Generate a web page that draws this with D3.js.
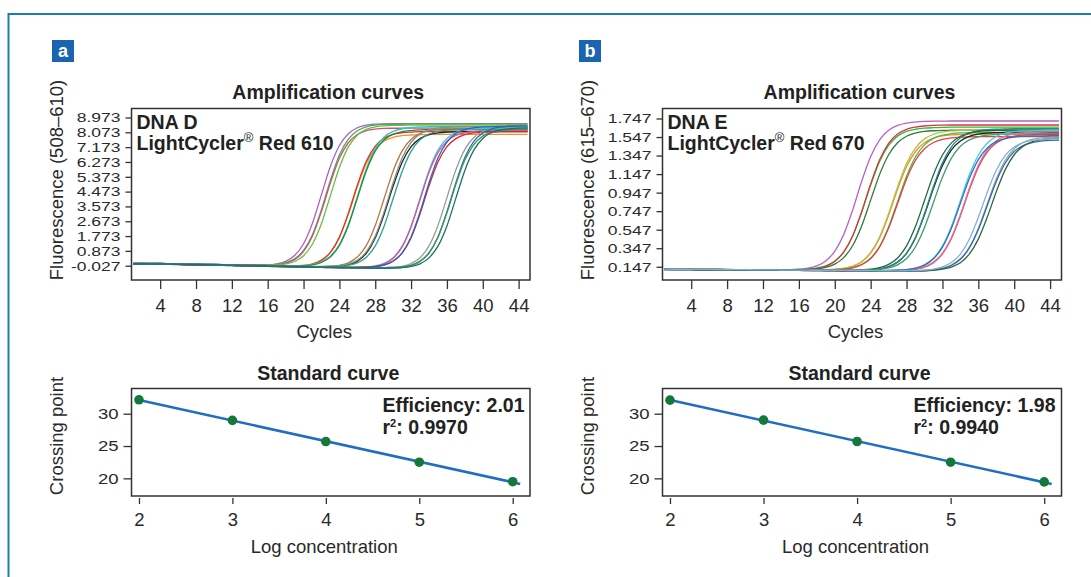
<!doctype html>
<html>
<head>
<meta charset="utf-8">
<title>Amplification curves and standard curves</title>
<script src="https://d3js.org/d3.v7.min.js"></script>
<style>
  body { margin: 0; background: #fff; }
  svg { display: block; font-family: "Liberation Sans", Arial, Helvetica, sans-serif; }
  .box { fill: none; stroke: #333; stroke-width: 1.5; }
  .axis path.domain { display: none; }
  .axis line { stroke: #333; stroke-width: 1.3; }
  .axis text { fill: #2a2a2a; font-size: 18.5px; font-family: "Liberation Sans", Arial, Helvetica, sans-serif; }
  .yamp text { font-size: 17.5px; }
  .bold { font-weight: bold; font-size: 19.5px; fill: #222; }
  .label { font-size: 18.5px; fill: #2a2a2a; }
  .amp { fill: none; stroke-width: 1.3; }
</style>
</head>
<body>
<script>
// ---- data ----
var cycles = [1,2,3,4,5,6,7,8,9,10,11,12,13,14,15,16,17,18,19,20,21,22,23,24,25,26,27,28,29,30,31,32,33,34,35,36,37,38,39,40,41,42,43,44,45];
var cycleTicks = [4, 8, 12, 16, 20, 24, 28, 32, 36, 40, 44];
var ampTicksD = [-0.027, 0.873, 1.773, 2.673, 3.573, 4.473, 5.373, 6.273, 7.173, 8.073, 8.973];
var ampTicksE = [0.147, 0.347, 0.547, 0.747, 0.947, 1.147, 1.347, 1.547, 1.747];
var logTicks = [2, 3, 4, 5, 6];
var cpTicks = [20, 25, 30];

// DNA D, LightCycler Red 610 : fluorescence per cycle, five dilutions
var dnaDGroup1 = [
  [0.10,0.10,0.09,0.09,0.08,0.07,0.06,0.05,0.04,0.03,0.02,0.01,0.00,0.00,0.01,0.02,0.09,0.24,0.59,1.31,2.57,4.29,6.01,7.27,7.99,8.35,8.51,8.57,8.59,8.60,8.60,8.60,8.60,8.60,8.60,8.60,8.60,8.60,8.60,8.60,8.60,8.60,8.60,8.60,8.60],
  [0.12,0.12,0.11,0.11,0.10,0.09,0.08,0.07,0.06,0.05,0.04,0.03,0.02,0.02,0.02,0.02,0.06,0.16,0.39,0.90,1.87,3.39,5.17,6.69,7.66,8.17,8.41,8.51,8.55,8.56,8.56,8.57,8.57,8.57,8.57,8.57,8.57,8.57,8.57,8.57,8.57,8.57,8.57,8.57,8.57],
  [0.08,0.08,0.07,0.07,0.06,0.05,0.04,0.03,0.02,0.01,0.00,-0.01,-0.02,-0.02,-0.02,-0.02,0.02,0.12,0.34,0.84,1.78,3.27,5.01,6.50,7.44,7.94,8.17,8.27,8.31,8.32,8.32,8.33,8.33,8.33,8.33,8.33,8.33,8.33,8.33,8.33,8.33,8.33,8.33,8.33,8.33],
  [0.11,0.11,0.10,0.10,0.09,0.08,0.07,0.06,0.05,0.04,0.03,0.02,0.01,0.00,0.00,-0.01,0.02,0.08,0.23,0.58,1.29,2.54,4.24,5.94,7.19,7.90,8.25,8.41,8.47,8.50,8.50,8.51,8.51,8.51,8.51,8.51,8.51,8.51,8.51,8.51,8.51,8.51,8.51,8.51,8.51]
];
var dnaDGroup2 = [
  [0.10,0.10,0.09,0.09,0.08,0.07,0.06,0.05,0.04,0.03,0.02,0.01,0.00,-0.01,-0.02,-0.04,-0.04,-0.04,-0.04,-0.01,0.09,0.31,0.78,1.69,3.10,4.76,6.18,7.08,7.55,7.77,7.87,7.91,7.93,7.94,7.95,7.95,7.95,7.95,7.95,7.95,7.95,7.95,7.95,7.95,7.95],
  [0.08,0.08,0.07,0.07,0.06,0.05,0.04,0.03,0.02,0.01,0.00,-0.01,-0.02,-0.03,-0.04,-0.06,-0.06,-0.06,-0.06,-0.03,0.07,0.30,0.78,1.71,3.16,4.86,6.31,7.24,7.72,7.95,8.05,8.09,8.11,8.12,8.13,8.13,8.13,8.13,8.13,8.13,8.13,8.13,8.13,8.13,8.13],
  [0.12,0.12,0.11,0.11,0.10,0.09,0.08,0.07,0.06,0.05,0.04,0.03,0.02,0.01,0.00,-0.02,-0.02,-0.03,-0.04,-0.01,0.05,0.21,0.55,1.26,2.49,4.17,5.85,7.08,7.79,8.13,8.29,8.36,8.40,8.41,8.42,8.42,8.42,8.42,8.42,8.42,8.42,8.42,8.42,8.42,8.42],
  [0.09,0.09,0.08,0.08,0.07,0.06,0.05,0.04,0.03,0.02,0.01,0.00,-0.01,-0.02,-0.03,-0.05,-0.05,-0.06,-0.07,-0.04,0.02,0.17,0.51,1.20,2.41,4.07,5.72,6.93,7.62,7.96,8.11,8.18,8.22,8.23,8.24,8.24,8.24,8.24,8.24,8.24,8.24,8.24,8.24,8.24,8.24]
];
var dnaDGroup3 = [
  [0.10,0.10,0.09,0.09,0.08,0.07,0.06,0.05,0.04,0.03,0.02,0.01,0.00,-0.01,-0.02,-0.04,-0.05,-0.06,-0.08,-0.09,-0.09,-0.08,-0.06,0.00,0.15,0.50,1.19,2.41,4.07,5.73,6.95,7.65,8.01,8.17,8.24,8.28,8.29,8.30,8.30,8.30,8.30,8.30,8.30,8.30,8.30],
  [0.07,0.07,0.06,0.06,0.05,0.04,0.03,0.02,0.01,0.00,-0.01,-0.02,-0.03,-0.04,-0.05,-0.07,-0.08,-0.09,-0.11,-0.12,-0.12,-0.12,-0.11,-0.08,0.02,0.25,0.73,1.66,3.11,4.81,6.26,7.20,7.69,7.93,8.04,8.08,8.10,8.11,8.12,8.12,8.12,8.12,8.12,8.12,8.12],
  [0.12,0.12,0.11,0.11,0.10,0.09,0.08,0.07,0.06,0.05,0.04,0.03,0.02,0.01,0.00,-0.02,-0.03,-0.04,-0.06,-0.07,-0.07,-0.07,-0.06,-0.02,0.08,0.31,0.81,1.77,3.26,5.01,6.51,7.47,7.98,8.22,8.33,8.38,8.40,8.41,8.42,8.42,8.42,8.42,8.42,8.42,8.42],
  [0.11,0.11,0.10,0.10,0.09,0.08,0.07,0.06,0.05,0.04,0.03,0.02,0.01,0.00,-0.01,-0.03,-0.04,-0.05,-0.07,-0.08,-0.09,-0.09,-0.09,-0.06,0.00,0.15,0.49,1.18,2.39,4.05,5.70,6.92,7.62,7.97,8.13,8.20,8.24,8.25,8.26,8.26,8.26,8.26,8.26,8.26,8.26]
];
var dnaDGroup4 = [
  [0.10,0.10,0.09,0.09,0.08,0.07,0.06,0.05,0.04,0.03,0.02,0.01,0.00,-0.01,-0.02,-0.04,-0.05,-0.06,-0.08,-0.09,-0.10,-0.11,-0.12,-0.13,-0.13,-0.12,-0.10,-0.04,0.12,0.46,1.16,2.39,4.08,5.76,6.99,7.70,8.05,8.22,8.29,8.32,8.34,8.35,8.35,8.35,8.35],
  [0.08,0.08,0.07,0.07,0.06,0.05,0.04,0.03,0.02,0.01,0.00,-0.01,-0.02,-0.03,-0.04,-0.06,-0.07,-0.08,-0.10,-0.11,-0.12,-0.13,-0.14,-0.15,-0.15,-0.15,-0.12,-0.06,0.09,0.43,1.12,2.33,3.98,5.64,6.84,7.54,7.89,8.05,8.12,8.16,8.17,8.18,8.18,8.18,8.18],
  [0.12,0.12,0.11,0.11,0.10,0.09,0.08,0.07,0.06,0.05,0.04,0.03,0.02,0.01,0.00,-0.02,-0.03,-0.04,-0.06,-0.07,-0.08,-0.09,-0.10,-0.11,-0.11,-0.11,-0.10,-0.07,0.03,0.26,0.74,1.67,3.12,4.82,6.27,7.20,7.69,7.93,8.04,8.08,8.10,8.11,8.12,8.12,8.12],
  [0.09,0.09,0.08,0.08,0.07,0.06,0.05,0.04,0.03,0.02,0.01,0.00,-0.01,-0.02,-0.03,-0.05,-0.06,-0.07,-0.09,-0.10,-0.11,-0.12,-0.13,-0.14,-0.14,-0.14,-0.13,-0.09,0.01,0.24,0.75,1.72,3.23,5.00,6.51,7.48,8.00,8.24,8.35,8.40,8.42,8.43,8.44,8.44,8.44]
];
var dnaDGroup5 = [
  [0.11,0.11,0.10,0.10,0.09,0.08,0.07,0.06,0.05,0.04,0.03,0.02,0.01,0.00,-0.01,-0.03,-0.04,-0.05,-0.07,-0.08,-0.09,-0.10,-0.11,-0.12,-0.13,-0.14,-0.15,-0.15,-0.15,-0.12,-0.06,0.11,0.46,1.18,2.42,4.11,5.80,7.04,7.76,8.11,8.28,8.35,8.38,8.40,8.41],
  [0.08,0.08,0.07,0.07,0.06,0.05,0.04,0.03,0.02,0.01,0.00,-0.01,-0.02,-0.03,-0.04,-0.06,-0.07,-0.08,-0.10,-0.11,-0.12,-0.13,-0.14,-0.15,-0.16,-0.17,-0.18,-0.18,-0.18,-0.17,-0.13,-0.02,0.23,0.74,1.72,3.24,5.02,6.54,7.52,8.03,8.28,8.39,8.44,8.46,8.47],
  [0.12,0.12,0.11,0.11,0.10,0.09,0.08,0.07,0.06,0.05,0.04,0.03,0.02,0.01,0.00,-0.02,-0.03,-0.04,-0.06,-0.07,-0.08,-0.09,-0.10,-0.11,-0.12,-0.13,-0.14,-0.14,-0.14,-0.13,-0.09,0.01,0.25,0.76,1.70,3.18,4.91,6.39,7.33,7.84,8.08,8.18,8.23,8.25,8.26],
  [0.10,0.10,0.09,0.09,0.08,0.07,0.06,0.05,0.04,0.03,0.02,0.01,0.00,-0.01,-0.02,-0.04,-0.05,-0.06,-0.08,-0.09,-0.10,-0.11,-0.12,-0.13,-0.14,-0.15,-0.16,-0.17,-0.17,-0.16,-0.14,-0.07,0.09,0.45,1.16,2.39,4.08,5.76,6.99,7.70,8.06,8.22,8.29,8.33,8.34]
];

// DNA E, LightCycler Red 670
var dnaEGroup1 = [
  [0.120,0.119,0.119,0.118,0.117,0.117,0.116,0.115,0.114,0.114,0.113,0.112,0.112,0.113,0.115,0.121,0.132,0.157,0.210,0.314,0.495,0.761,1.069,1.336,1.517,1.620,1.673,1.698,1.709,1.715,1.718,1.719,1.720,1.720,1.720,1.720,1.720,1.720,1.720,1.720,1.720,1.720,1.720,1.720,1.720],
  [0.123,0.122,0.122,0.121,0.120,0.120,0.119,0.118,0.117,0.117,0.116,0.115,0.115,0.114,0.115,0.118,0.122,0.133,0.157,0.208,0.307,0.480,0.736,1.029,1.284,1.458,1.557,1.607,1.631,1.643,1.648,1.651,1.653,1.653,1.653,1.653,1.653,1.653,1.653,1.653,1.653,1.653,1.653,1.653,1.653],
  [0.117,0.116,0.116,0.115,0.114,0.114,0.113,0.112,0.111,0.111,0.110,0.109,0.109,0.108,0.109,0.112,0.117,0.128,0.152,0.204,0.305,0.481,0.742,1.041,1.301,1.479,1.579,1.630,1.654,1.666,1.672,1.675,1.677,1.677,1.677,1.677,1.677,1.677,1.677,1.677,1.677,1.677,1.677,1.677,1.677],
  [0.122,0.121,0.121,0.120,0.119,0.119,0.118,0.117,0.116,0.116,0.115,0.114,0.114,0.113,0.114,0.115,0.118,0.125,0.141,0.176,0.246,0.376,0.588,0.866,1.144,1.356,1.486,1.556,1.590,1.607,1.615,1.619,1.620,1.622,1.622,1.622,1.622,1.622,1.622,1.622,1.622,1.622,1.622,1.622,1.622]
];
var dnaEGroup2 = [
  [0.120,0.119,0.119,0.118,0.117,0.117,0.116,0.115,0.114,0.114,0.113,0.112,0.112,0.111,0.110,0.110,0.109,0.110,0.112,0.117,0.127,0.150,0.199,0.293,0.458,0.702,0.983,1.226,1.391,1.486,1.535,1.559,1.570,1.575,1.578,1.580,1.580,1.580,1.580,1.580,1.580,1.580,1.580,1.580,1.580],
  [0.123,0.122,0.122,0.121,0.120,0.120,0.119,0.118,0.117,0.117,0.116,0.115,0.115,0.114,0.113,0.113,0.112,0.113,0.115,0.120,0.131,0.154,0.204,0.301,0.471,0.722,1.009,1.260,1.429,1.527,1.577,1.601,1.613,1.618,1.621,1.623,1.623,1.623,1.623,1.623,1.623,1.623,1.623,1.623,1.623],
  [0.118,0.117,0.117,0.116,0.115,0.115,0.114,0.113,0.112,0.112,0.111,0.110,0.110,0.109,0.108,0.108,0.107,0.108,0.108,0.112,0.119,0.134,0.169,0.238,0.366,0.576,0.850,1.124,1.333,1.462,1.532,1.567,1.583,1.591,1.595,1.597,1.598,1.598,1.598,1.598,1.598,1.598,1.598,1.598,1.598],
  [0.122,0.121,0.121,0.120,0.119,0.119,0.118,0.117,0.116,0.116,0.115,0.114,0.114,0.113,0.112,0.112,0.111,0.111,0.112,0.116,0.122,0.137,0.171,0.237,0.361,0.564,0.829,1.094,1.296,1.421,1.488,1.522,1.538,1.545,1.549,1.551,1.552,1.552,1.552,1.552,1.552,1.552,1.552,1.552,1.552]
];
var dnaEGroup3 = [
  [0.120,0.119,0.119,0.118,0.117,0.117,0.116,0.115,0.114,0.114,0.113,0.112,0.112,0.111,0.110,0.110,0.109,0.108,0.107,0.107,0.106,0.107,0.110,0.114,0.125,0.149,0.197,0.292,0.460,0.708,0.993,1.240,1.409,1.505,1.554,1.579,1.590,1.595,1.598,1.600,1.600,1.600,1.600,1.600,1.600],
  [0.117,0.116,0.116,0.115,0.114,0.114,0.113,0.112,0.111,0.111,0.110,0.109,0.109,0.108,0.107,0.107,0.106,0.105,0.104,0.104,0.103,0.104,0.107,0.111,0.122,0.147,0.197,0.294,0.466,0.721,1.013,1.268,1.441,1.539,1.590,1.615,1.627,1.632,1.635,1.637,1.637,1.637,1.637,1.637,1.637],
  [0.122,0.121,0.121,0.120,0.119,0.119,0.118,0.117,0.116,0.116,0.115,0.114,0.114,0.113,0.112,0.112,0.111,0.110,0.109,0.109,0.110,0.110,0.114,0.121,0.137,0.172,0.242,0.372,0.583,0.862,1.141,1.353,1.484,1.555,1.590,1.607,1.615,1.619,1.620,1.622,1.622,1.622,1.622,1.622,1.622],
  [0.121,0.120,0.120,0.119,0.118,0.118,0.117,0.116,0.115,0.115,0.114,0.113,0.113,0.112,0.111,0.111,0.110,0.109,0.108,0.108,0.107,0.107,0.109,0.112,0.119,0.135,0.168,0.236,0.363,0.570,0.841,1.112,1.320,1.447,1.516,1.550,1.567,1.574,1.578,1.580,1.581,1.581,1.581,1.581,1.581]
];
var dnaEGroup4 = [
  [0.120,0.119,0.119,0.118,0.117,0.117,0.116,0.115,0.114,0.114,0.113,0.112,0.112,0.111,0.110,0.110,0.109,0.108,0.107,0.107,0.106,0.105,0.105,0.104,0.105,0.106,0.109,0.116,0.132,0.167,0.238,0.369,0.581,0.860,1.139,1.351,1.482,1.553,1.588,1.605,1.613,1.617,1.619,1.620,1.620],
  [0.117,0.116,0.116,0.115,0.114,0.114,0.113,0.112,0.111,0.111,0.110,0.109,0.109,0.108,0.107,0.107,0.106,0.105,0.104,0.104,0.103,0.102,0.102,0.101,0.100,0.102,0.104,0.108,0.118,0.142,0.191,0.286,0.452,0.696,0.978,1.222,1.388,1.483,1.532,1.556,1.567,1.572,1.575,1.577,1.577],
  [0.122,0.121,0.121,0.120,0.119,0.119,0.118,0.117,0.116,0.116,0.115,0.114,0.114,0.113,0.112,0.112,0.111,0.110,0.109,0.109,0.108,0.107,0.107,0.106,0.105,0.107,0.109,0.113,0.124,0.148,0.197,0.293,0.462,0.710,0.995,1.242,1.411,1.507,1.556,1.581,1.592,1.597,1.600,1.602,1.602],
  [0.121,0.120,0.120,0.119,0.118,0.118,0.117,0.116,0.115,0.115,0.114,0.113,0.113,0.112,0.111,0.111,0.110,0.109,0.108,0.108,0.107,0.106,0.106,0.105,0.105,0.107,0.110,0.116,0.132,0.165,0.233,0.359,0.563,0.831,1.099,1.303,1.429,1.497,1.531,1.547,1.554,1.558,1.560,1.561,1.561]
];
var dnaEGroup5 = [
  [0.122,0.121,0.121,0.120,0.119,0.119,0.118,0.117,0.116,0.116,0.115,0.114,0.114,0.113,0.112,0.112,0.111,0.110,0.109,0.109,0.108,0.107,0.107,0.106,0.105,0.105,0.104,0.104,0.105,0.109,0.116,0.132,0.166,0.233,0.358,0.561,0.827,1.093,1.296,1.421,1.488,1.522,1.538,1.545,1.549],
  [0.118,0.117,0.117,0.116,0.115,0.115,0.114,0.113,0.112,0.112,0.111,0.110,0.110,0.109,0.108,0.108,0.107,0.106,0.105,0.105,0.104,0.103,0.103,0.102,0.101,0.101,0.100,0.100,0.101,0.104,0.112,0.128,0.161,0.227,0.349,0.548,0.808,1.068,1.267,1.390,1.455,1.488,1.504,1.512,1.515],
  [0.120,0.119,0.119,0.118,0.117,0.117,0.116,0.115,0.114,0.114,0.113,0.112,0.112,0.111,0.110,0.110,0.109,0.108,0.107,0.107,0.106,0.105,0.105,0.104,0.103,0.103,0.102,0.101,0.102,0.104,0.110,0.121,0.144,0.191,0.284,0.445,0.683,0.957,1.195,1.356,1.449,1.496,1.519,1.530,1.536],
  [0.121,0.120,0.120,0.119,0.118,0.118,0.117,0.116,0.115,0.115,0.114,0.113,0.113,0.112,0.111,0.111,0.110,0.109,0.108,0.108,0.107,0.106,0.106,0.105,0.104,0.104,0.103,0.104,0.105,0.111,0.122,0.145,0.192,0.283,0.444,0.680,0.952,1.188,1.349,1.440,1.488,1.511,1.521,1.527,1.529]
];

// standard curves: crossing point vs log concentration
var logConc = [2, 3, 4, 5, 6];
var cpD = [32.15, 28.97, 25.69, 22.50, 19.48];
var cpE = [32.10, 29.00, 25.70, 22.50, 19.45];
var efficiencyD = "2.01", r2D = "0.9970";
var efficiencyE = "1.98", r2E = "0.9940";

var colorsD = ["#b35cc9","#3cb44b","#d64b8c","#66c23e", "#ec9130","#e3331f","#2fc4c4","#2b8c3c",
               "#b5793f","#1f1f1f","#8c8c8c","#2aa38b", "#3ac9e3","#e2508f","#d12b2b","#2f61c2",
               "#9b9b9b","#2969ba","#3b9c4b","#1f6f6f"];
var colorsE = ["#b462c9","#41b241","#d33a3a","#2b7c3c", "#ea9232","#b4c23f","#52b352","#e2423f",
               "#1e1e1e","#2b8b8b","#1f6b41","#3c9c6b", "#41c9e2","#d2414f","#e272a2","#3071c1",
               "#a2a2a2","#3169b1","#2b6b3b","#82b2d2"];

// ---- layout ----
var width = 1091, height = 577;
var ampTop = 108.5, ampBottom = 280, stdTop = 388.5, stdBottom = 496;

var svg = d3.select("body").append("svg")
    .attr("width", width)
    .attr("height", height);

// outer frame
svg.append("path")
    .attr("d", "M8.5," + height + "V14H" + width)
    .attr("fill", "none")
    .attr("stroke", "#1c7db0")
    .attr("stroke-width", 2);

var panels = [
  { id: "a", letterX: 52, x0: 131.5, x1: 530, dna: "DNA D", dye: "610", yTitle: "Fluorescence (508\u2013610)",
    groups: [dnaDGroup1, dnaDGroup2, dnaDGroup3, dnaDGroup4, dnaDGroup5], colors: colorsD,
    yDomain: [-0.894, 9.519], ticks: ampTicksD, cp: cpD, eff: efficiencyD, r2: r2D },
  { id: "b", letterX: 579, x0: 662.5, x1: 1061.5, dna: "DNA E", dye: "670", yTitle: "Fluorescence (615\u2013670)",
    groups: [dnaEGroup1, dnaEGroup2, dnaEGroup3, dnaEGroup4, dnaEGroup5], colors: colorsE,
    yDomain: [0.004, 1.855], ticks: ampTicksE, cp: cpE, eff: efficiencyE, r2: r2E }
];

panels.forEach(function(p) {
  var cx = (p.x0 + p.x1) / 2;

  // panel letter
  svg.append("rect")
      .attr("x", p.letterX).attr("y", 40)
      .attr("width", 22).attr("height", 22)
      .attr("fill", "#1b64b2");
  svg.append("text")
      .attr("x", p.letterX + 11).attr("y", 57)
      .attr("text-anchor", "middle")
      .attr("font-weight", "bold").attr("font-size", 18)
      .attr("fill", "#fff")
      .text(p.id);

  // ----- amplification curves -----
  var x = d3.scaleLinear().domain([0.8, 45.27]).range([p.x0, p.x1]);
  var y = d3.scaleLinear().domain(p.yDomain).range([ampBottom, ampTop]);

  svg.append("clipPath").attr("id", "clip-" + p.id)
    .append("rect")
      .attr("x", p.x0).attr("y", ampTop)
      .attr("width", p.x1 - p.x0).attr("height", ampBottom - ampTop);

  var line = d3.line()
      .x(function(d, i) { return x(cycles[i]); })
      .y(function(d) { return y(d); })
      .curve(d3.curveMonotoneX);

  var curves = [];
  p.groups.forEach(function(g) { g.forEach(function(c) { curves.push(c); }); });

  svg.append("g").attr("clip-path", "url(#clip-" + p.id + ")")
    .selectAll("path")
    .data(curves)
    .enter().append("path")
      .attr("class", "amp")
      .attr("stroke", function(d, i) { return p.colors[i]; })
      .attr("d", line);

  svg.append("rect").attr("class", "box")
      .attr("x", p.x0).attr("y", ampTop)
      .attr("width", p.x1 - p.x0).attr("height", ampBottom - ampTop);

  var yAxis = svg.append("g")
      .attr("class", "axis yamp")
      .attr("transform", "translate(" + p.x0 + ",0)")
      .call(d3.axisLeft(y).tickValues(p.ticks).tickSize(6).tickPadding(5)
            .tickFormat(function(d) { return d.toFixed(3); }));
  yAxis.selectAll(".tick text").attr("transform", "scale(1,0.78)");

  svg.append("g")
      .attr("class", "axis")
      .attr("transform", "translate(0," + ampBottom + ")")
      .call(d3.axisBottom(x).tickValues(cycleTicks).tickSize(9).tickPadding(10));

  svg.append("text").attr("class", "bold")
      .attr("x", cx - 2.5).attr("y", 99)
      .attr("text-anchor", "middle")
      .text("Amplification curves");

  svg.append("text").attr("class", "label")
      .attr("x", cx - 6.5).attr("y", 338)
      .attr("text-anchor", "middle")
      .text("Cycles");

  svg.append("text").attr("class", "label")
      .attr("transform", "translate(" + (p.x0 - 68.5) + ",180) rotate(-90)")
      .attr("text-anchor", "middle")
      .text(p.yTitle);

  svg.append("text").attr("class", "bold")
      .attr("x", p.x0 + 5).attr("y", 129)
      .text(p.dna);
  var dyeLabel = svg.append("text").attr("class", "bold")
      .attr("x", p.x0 + 5).attr("y", 150);
  dyeLabel.append("tspan").text("LightCycler");
  dyeLabel.append("tspan").attr("font-size", 13).attr("font-weight", "normal").attr("dy", -8).text("\u00AE");
  dyeLabel.append("tspan").attr("dy", 8).text(" Red " + p.dye);

  // ----- standard curve -----
  var sx = d3.scaleLinear().domain([1.92, 6.185]).range([p.x0, p.x1]);
  var sy = d3.scaleLinear().domain([17.27, 33.9]).range([stdBottom, stdTop]);

  // least squares fit of crossing point on log concentration
  var mx = d3.mean(logConc), my = d3.mean(p.cp);
  var slope = d3.sum(logConc, function(v, i) { return (v - mx) * (p.cp[i] - my); }) /
              d3.sum(logConc, function(v) { return (v - mx) * (v - mx); });
  var fitEnds = [logConc[0], logConc[logConc.length - 1] + 0.08];

  svg.append("line")
      .attr("x1", sx(fitEnds[0])).attr("y1", sy(my + slope * (fitEnds[0] - mx)))
      .attr("x2", sx(fitEnds[1])).attr("y2", sy(my + slope * (fitEnds[1] - mx)))
      .attr("stroke", "#1f6ec2").attr("stroke-width", 2.6);

  svg.selectAll(".pt-" + p.id)
    .data(logConc)
    .enter().append("circle")
      .attr("class", "pt-" + p.id)
      .attr("cx", function(d) { return sx(d); })
      .attr("cy", function(d, i) { return sy(p.cp[i]); })
      .attr("r", 4.8)
      .attr("fill", "#16773a");

  svg.append("rect").attr("class", "box")
      .attr("x", p.x0).attr("y", stdTop)
      .attr("width", p.x1 - p.x0).attr("height", stdBottom - stdTop);

  var syAxis = svg.append("g")
      .attr("class", "axis")
      .attr("transform", "translate(" + p.x0 + ",0)")
      .call(d3.axisLeft(sy).tickValues(cpTicks).tickSize(8).tickPadding(5));
  syAxis.selectAll(".tick text").attr("transform", "scale(1,0.82)");

  svg.append("g")
      .attr("class", "axis")
      .attr("transform", "translate(0," + (stdBottom + 2) + ")")
      .call(d3.axisBottom(sx).tickValues(logTicks).tickSize(6).tickPadding(9)
            .tickFormat(d3.format("d")));

  svg.append("text").attr("class", "bold")
      .attr("x", cx - 2.5).attr("y", 379.5)
      .attr("text-anchor", "middle")
      .text("Standard curve");

  svg.append("text").attr("class", "label")
      .attr("x", cx - 6.5).attr("y", 553)
      .attr("text-anchor", "middle")
      .text("Log concentration");

  svg.append("text").attr("class", "label")
      .attr("transform", "translate(" + (p.x0 - 68.5) + ",436) rotate(-90)")
      .attr("text-anchor", "middle")
      .text("Crossing point");

  svg.append("text").attr("class", "bold")
      .attr("x", p.x0 + 251).attr("y", 412)
      .text("Efficiency: " + p.eff);
  var r2Label = svg.append("text").attr("class", "bold")
      .attr("x", p.x0 + 251).attr("y", 434);
  r2Label.append("tspan").text("r");
  r2Label.append("tspan").attr("font-size", 11).attr("dy", -7).text("2");
  r2Label.append("tspan").attr("dy", 7).text(": " + p.r2);
});
</script>
</body>
</html>
